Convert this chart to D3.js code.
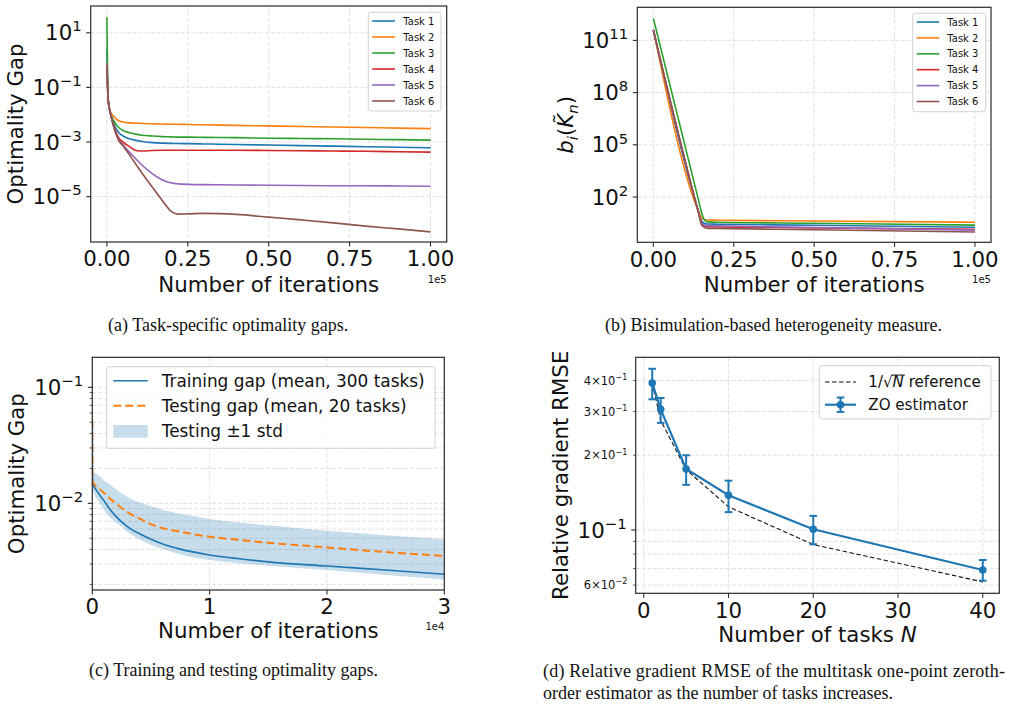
<!DOCTYPE html>
<html><head><meta charset="utf-8">
<script src="https://cdn.jsdelivr.net/npm/d3@7/dist/d3.min.js"></script>
<style>
html,body{margin:0;padding:0;background:#fff;}
svg{display:block;}
</style></head><body>
<script>
// ================= DATA =================
const taskNames = ["Task 1","Task 2","Task 3","Task 4","Task 5","Task 6"];
const taskColors = ["#1f77b4","#ff7f0e","#2ca02c","#d62728","#9467bd","#8c564b"];

// (a) task-specific optimality gaps
const itersA = [0, 400, 1000, 2000, 3500, 5000, 7000, 9000, 11000, 14000, 17000, 20000, 22000, 25000, 30000, 35000, 40000, 50000, 60000, 70000, 80000, 90000, 100000];
const gapTask1 = [2.57, 3.55e-2, 1.26e-2, 5.01e-3, 2.34e-3, 1.66e-3, 1.32e-3, 1.15e-3, 1.05e-3, 9.55e-4, 9.12e-4, 8.91e-4, 8.81e-4, 8.71e-4, 8.51e-4, 8.32e-4, 8.13e-4, 7.76e-4, 7.41e-4, 7.08e-4, 6.76e-4, 6.46e-4, 6.17e-4];
const gapTask2 = [0.741, 3.55e-2, 1.41e-2, 8.91e-3, 6.17e-3, 5.37e-3, 5.01e-3, 4.90e-3, 4.79e-3, 4.68e-3, 4.57e-3, 4.47e-3, 4.47e-3, 4.37e-3, 4.27e-3, 4.17e-3, 4.07e-3, 3.89e-3, 3.72e-3, 3.55e-3, 3.39e-3, 3.24e-3, 3.09e-3];
const gapTask3 = [37.2, 3.55e-2, 1.26e-2, 6.31e-3, 3.55e-3, 2.63e-3, 2.19e-3, 1.95e-3, 1.78e-3, 1.66e-3, 1.58e-3, 1.55e-3, 1.51e-3, 1.51e-3, 1.48e-3, 1.46e-3, 1.45e-3, 1.38e-3, 1.35e-3, 1.32e-3, 1.26e-3, 1.23e-3, 1.17e-3];
const gapTask4 = [0.741, 3.55e-2, 1.26e-2, 4.47e-3, 1.51e-3, 1.0e-3, 6.76e-4, 4.90e-4, 4.68e-4, 4.90e-4, 5.01e-4, 5.01e-4, 5.01e-4, 5.01e-4, 5.01e-4, 5.01e-4, 5.01e-4, 4.90e-4, 4.79e-4, 4.68e-4, 4.57e-4, 4.42e-4, 4.27e-4];
const gapTask5 = [0.741, 3.55e-2, 1.26e-2, 3.98e-3, 1.32e-3, 7.94e-4, 4.17e-4, 2.40e-4, 1.38e-4, 6.92e-5, 4.17e-5, 3.16e-5, 2.95e-5, 2.82e-5, 2.75e-5, 2.72e-5, 2.69e-5, 2.63e-5, 2.57e-5, 2.51e-5, 2.51e-5, 2.45e-5, 2.40e-5];
const gapTask6 = [0.741, 3.55e-2, 1.26e-2, 3.98e-3, 1.23e-3, 7.08e-4, 3.39e-4, 1.51e-4, 6.92e-5, 2.24e-5, 7.59e-6, 2.82e-6, 2.29e-6, 2.34e-6, 2.45e-6, 2.40e-6, 2.24e-6, 1.78e-6, 1.41e-6, 1.10e-6, 8.32e-7, 6.61e-7, 5.13e-7];

// (b) bisimulation-based heterogeneity measure
const itersB = [0, 14000, 15000, 16000, 17000, 20000, 50000, 100000];
const hetTask1 = [4.17e11, 15.8, 4.17, 3.02, 2.82, 2.75, 2.40, 1.82];
const hetTask2 = [3.98e11, 15.8, 6.31, 5.01, 4.79, 4.68, 4.17, 3.55];
const hetTask3 = [1.82e12, 70.8, 12.6, 4.57, 3.72, 3.55, 3.09, 2.45];
const hetTask4 = [3.80e11, 14.1, 3.16, 2.14, 1.95, 1.91, 1.70, 1.38];
const hetTask5 = [3.98e11, 14.1, 3.16, 2.40, 2.24, 2.19, 1.78, 1.26];
const hetTask6 = [3.63e11, 12.6, 2.51, 1.74, 1.58, 1.55, 1.32, 0.977];

// (c) training / testing gaps
const itersC = [0, 20, 300, 650, 1000, 1500, 2000, 2500, 3000, 3500, 4000, 5000, 6000, 7500, 10000, 12500, 15000, 20000, 25000, 30000];
const trainGap  = [5.25e-2, 1.48e-2, 1.32e-2, 1.17e-2, 1.05e-2, 8.91e-3, 7.76e-3, 6.93e-3, 6.31e-3, 5.82e-3, 5.50e-3, 4.90e-3, 4.47e-3, 4.03e-3, 3.59e-3, 3.33e-3, 3.13e-3, 2.88e-3, 2.66e-3, 2.45e-3];
const testGap   = [5.25e-2, 1.55e-2, 1.41e-2, 1.32e-2, 1.23e-2, 1.10e-2, 1.00e-2, 9.12e-3, 8.41e-3, 7.85e-3, 7.41e-3, 6.61e-3, 6.10e-3, 5.69e-3, 5.15e-3, 4.84e-3, 4.57e-3, 4.17e-3, 3.80e-3, 3.52e-3];
const testUpper = [1.94e-2, 1.91e-2, 1.82e-2, 1.70e-2, 1.58e-2, 1.45e-2, 1.32e-2, 1.22e-2, 1.14e-2, 1.07e-2, 1.02e-2, 9.44e-3, 8.81e-3, 8.13e-3, 7.33e-3, 6.84e-3, 6.46e-3, 5.79e-3, 5.31e-3, 4.90e-3];
const testLower = [1.30e-2, 1.29e-2, 1.12e-2, 1.00e-2, 8.75e-3, 7.59e-3, 6.84e-3, 6.31e-3, 5.69e-3, 5.25e-3, 4.90e-3, 4.37e-3, 4.03e-3, 3.63e-3, 3.24e-3, 3.05e-3, 2.90e-3, 2.66e-3, 2.41e-3, 2.21e-3];

// (d) relative gradient RMSE
const tasksN = [1, 2, 5, 10, 20, 40];
const zoRmse = [0.391, 0.306, 0.176, 0.138, 0.1007, 0.069];
const zoLow  = [0.336, 0.270, 0.152, 0.118, 0.0876, 0.0625];
const zoHigh = [0.446, 0.340, 0.200, 0.158, 0.114, 0.0757];
const refRmse = [0.391, 0.276, 0.175, 0.124, 0.0874, 0.0618];

// ticks
const xTicksA = [0, 25000, 50000, 75000, 100000];
const xTickLabelsA = ["0.00", "0.25", "0.50", "0.75", "1.00"];
const yTicksA = [[1e1, 1], [1e-1, -1], [1e-3, -3], [1e-5, -5]];
const yTicksB = [[1e11, 11], [1e8, 8], [1e5, 5], [1e2, 2]];
const xTicksC = [0, 10000, 20000, 30000];
const xTickLabelsC = ["0", "1", "2", "3"];
const yTicksC = [[1e-1, -1], [1e-2, -2]];
const yMinorC = [2e-3,3e-3,4e-3,5e-3,6e-3,7e-3,8e-3,9e-3,2e-2,3e-2,4e-2,5e-2,6e-2,7e-2,8e-2,9e-2];
const xTicksD = [0, 10, 20, 30, 40];
const yTicksD = [[1e-1, -1]];
const yMinorD = [0.06, 0.07, 0.08, 0.09, 0.2, 0.3, 0.4];
const yMinorLabelsD = [[0.4, "4", -1], [0.3, "3", -1], [0.2, "2", -1], [0.06, "6", -2]];

const captions = {
  a: "(a) Task-specific optimality gaps.",
  b: "(b) Bisimulation-based heterogeneity measure.",
  c: "(c) Training and testing optimality gaps.",
  d1: "(d) Relative gradient RMSE of the multitask one-point zeroth-",
  d2: "order estimator as the number of tasks increases."
};

// ================= DRAWING =================
const FS = 21.3;
const GRID = "#dedede";
const SPINE = "#2b2b2b";
const svg = d3.select("body").append("svg").attr("width", 1013).attr("height", 708)
  .style("font-family", "'DejaVu Sans', sans-serif");
const defs = svg.append("defs");
let clipN = 0;

function makePanel(r, xDomain, yDomain) {
  const g = svg.append("g");
  const x = d3.scaleLinear().domain(xDomain).range([r.l, r.r]);
  const y = d3.scaleLog().domain(yDomain).range([r.b, r.t]);
  const id = "clip" + (++clipN);
  defs.append("clipPath").attr("id", id).append("rect")
    .attr("x", r.l).attr("y", r.t).attr("width", r.r - r.l).attr("height", r.b - r.t);
  return { g, x, y, r, clip: `url(#${id})` };
}
function gridX(P, vals) {
  P.g.append("g").selectAll("line").data(vals).join("line")
    .attr("x1", d => P.x(d)).attr("x2", d => P.x(d)).attr("y1", P.r.t).attr("y2", P.r.b)
    .attr("stroke", GRID).attr("stroke-width", 0.9).attr("stroke-dasharray", "4,2");
}
function gridY(P, vals) {
  P.g.append("g").selectAll("line").data(vals).join("line")
    .attr("y1", d => P.y(d)).attr("y2", d => P.y(d)).attr("x1", P.r.l).attr("x2", P.r.r)
    .attr("stroke", GRID).attr("stroke-width", 0.9).attr("stroke-dasharray", "4,2");
}
function frame(P) {
  P.g.append("rect").attr("x", P.r.l).attr("y", P.r.t).attr("width", P.r.r - P.r.l).attr("height", P.r.b - P.r.t)
    .attr("fill", "none").attr("stroke", SPINE).attr("stroke-width", 1.2);
}
function xTicks(P, vals, labels) {
  const g = P.g.append("g");
  vals.forEach((v, i) => {
    const xx = P.x(v);
    g.append("line").attr("x1", xx).attr("x2", xx).attr("y1", P.r.b).attr("y2", P.r.b + 4.5).attr("stroke", SPINE).attr("stroke-width", 1.1);
    g.append("text").attr("x", xx).attr("y", P.r.b + 24.3).attr("text-anchor", "middle").attr("font-size", FS).attr("fill", "#111").text(labels[i]);
  });
}
function supLabel(t, mant, exp, fs) {
  t.append("tspan").text(mant === null ? "10" : mant + "\u00d710");
  t.append("tspan").attr("dy", -0.42 * fs).attr("font-size", fs * 0.7).text(exp < 0 ? "\u2212" + (-exp) : String(exp));
}
function yTicks(P, ticks, minor) {
  const g = P.g.append("g");
  (minor || []).forEach(v => {
    const yy = P.y(v);
    g.append("line").attr("x1", P.r.l - 2.6).attr("x2", P.r.l).attr("y1", yy).attr("y2", yy).attr("stroke", SPINE).attr("stroke-width", 0.8);
  });
  ticks.forEach(([v, e]) => {
    const yy = P.y(v);
    g.append("line").attr("x1", P.r.l - 4.5).attr("x2", P.r.l).attr("y1", yy).attr("y2", yy).attr("stroke", SPINE).attr("stroke-width", 1.1);
    const t = g.append("text").attr("x", P.r.l - 9).attr("y", yy + 0.36 * FS).attr("text-anchor", "end").attr("font-size", FS).attr("fill", "#111");
    supLabel(t, null, e, FS);
  });
}
function xLabel(P, txt, y) {
  return P.g.append("text").attr("x", (P.r.l + P.r.r) / 2).attr("y", y).attr("text-anchor", "middle").attr("font-size", FS).attr("fill", "#111").text(txt);
}
function yLabel(P, txt, x) {
  const cy = (P.r.t + P.r.b) / 2;
  return P.g.append("text").attr("transform", `translate(${x},${cy}) rotate(-90)`).attr("text-anchor", "middle").attr("font-size", FS).attr("fill", "#111").text(txt);
}
function offsetText(P, txt, y) {
  P.g.append("text").attr("x", P.r.r).attr("y", y).attr("text-anchor", "end").attr("font-size", 10).attr("fill", "#111").text(txt);
}
function legendBox(g, x0, y0, x1, y1) {
  g.append("rect").attr("x", x0).attr("y", y0).attr("width", x1 - x0).attr("height", y1 - y0).attr("rx", 2.5)
    .attr("fill", "white").attr("fill-opacity", 0.85).attr("stroke", "#cccccc").attr("stroke-width", 0.9);
}

// ---------- panel (a) ----------
{
  const P = makePanel({ l: 90.7, r: 446.7, t: 6, b: 242 }, [-5000, 105000], [2.19e-7, 95.5]);
  gridX(P, xTicksA); gridY(P, yTicksA.map(d => d[0]));
  const series = [gapTask1, gapTask2, gapTask3, gapTask4, gapTask5, gapTask6];
  const line = d3.line().x((d, i) => P.x(itersA[i])).y(d => P.y(d)).curve(d3.curveMonotoneX);
  const lg = P.g.append("g").attr("clip-path", P.clip);
  series.forEach((s, k) => lg.append("path").attr("d", line(s)).attr("fill", "none").attr("stroke", taskColors[k]).attr("stroke-width", 1.6));
  frame(P);
  xTicks(P, xTicksA, xTickLabelsA);
  yTicks(P, yTicksA);
  xLabel(P, "Number of iterations", 291.5);
  yLabel(P, "Optimality Gap", 22.5);
  offsetText(P, "1e5", 282.7);
  const L = P.g.append("g");
  legendBox(L, 368.3, 12.3, 441, 111);
  taskNames.forEach((n, k) => {
    const yy = 21 + 16 * k;
    L.append("line").attr("x1", 372.3).attr("x2", 395).attr("y1", yy).attr("y2", yy).attr("stroke", taskColors[k]).attr("stroke-width", 1.6);
    L.append("text").attr("x", 403.3).attr("y", yy + 3.6).attr("font-size", 10).attr("fill", "#111").text(n);
  });
}

// ---------- panel (b) ----------
{
  const P = makePanel({ l: 637.3, r: 991, t: 7.3, b: 242.3 }, [-5000, 105000], [0.251, 7.94e12]);
  gridX(P, xTicksA); gridY(P, yTicksB.map(d => d[0]));
  const series = [hetTask1, hetTask2, hetTask3, hetTask4, hetTask5, hetTask6];
  const line = d3.line().x((d, i) => P.x(itersB[i])).y(d => P.y(d)).curve(d3.curveMonotoneX);
  const lg = P.g.append("g").attr("clip-path", P.clip);
  series.forEach((s, k) => lg.append("path").attr("d", line(s)).attr("fill", "none").attr("stroke", taskColors[k]).attr("stroke-width", 1.6));
  frame(P);
  xTicks(P, xTicksA, xTickLabelsA);
  yTicks(P, yTicksB);
  xLabel(P, "Number of iterations", 291.5);
  offsetText(P, "1e5", 282.7);
  // y label b_i(K~_n)
  const t = P.g.append("text").attr("transform", `translate(573,${(P.r.t + P.r.b) / 2}) rotate(-90)`)
    .attr("text-anchor", "middle").attr("font-size", FS).attr("fill", "#111");
  t.append("tspan").attr("font-style", "italic").text("b");
  t.append("tspan").attr("font-style", "italic").attr("font-size", FS * 0.7).attr("dy", 4.5).text("i");
  t.append("tspan").attr("dy", -4.5).text("(");
  t.append("tspan").attr("font-style", "italic").text("K\u0303");
  t.append("tspan").attr("font-style", "italic").attr("font-size", FS * 0.7).attr("dy", 4.5).text("n");
  t.append("tspan").attr("dy", -4.5).text(")");
  const L = P.g.append("g");
  legendBox(L, 912.7, 13.3, 985.7, 111.7);
  taskNames.forEach((n, k) => {
    const yy = 22 + 15.9 * k;
    L.append("line").attr("x1", 916.7).attr("x2", 939.3).attr("y1", yy).attr("y2", yy).attr("stroke", taskColors[k]).attr("stroke-width", 1.6);
    L.append("text").attr("x", 947.3).attr("y", yy + 3.6).attr("font-size", 10).attr("fill", "#111").text(n);
  });
}

// ---------- panel (c) ----------
{
  const P = makePanel({ l: 92.3, r: 444.3, t: 357.3, b: 590 }, [0, 30000], [1.79e-3, 0.1815]);
  gridX(P, xTicksC); gridY(P, yMinorC); gridY(P, yTicksC.map(d => d[0]));
  const lg = P.g.append("g").attr("clip-path", P.clip);
  const area = d3.area().x((d, i) => P.x(itersC[i])).y0((d, i) => P.y(testLower[i])).y1(d => P.y(d)).curve(d3.curveMonotoneX);
  lg.append("path").attr("d", area(testUpper)).attr("fill", "#1f77b4").attr("fill-opacity", 0.25);
  const line = d3.line().x((d, i) => P.x(itersC[i])).y(d => P.y(d)).curve(d3.curveMonotoneX);
  lg.append("path").attr("d", line(trainGap)).attr("fill", "none").attr("stroke", "#1f77b4").attr("stroke-width", 1.6);
  lg.append("path").attr("d", line(testGap)).attr("fill", "none").attr("stroke", "#ff7f0e").attr("stroke-width", 2).attr("stroke-dasharray", "8,4");
  frame(P);
  xTicks(P, xTicksC, xTickLabelsC);
  yTicks(P, yTicksC, yMinorC);
  xLabel(P, "Number of iterations", 638.3);
  yLabel(P, "Optimality Gap", 24);
  offsetText(P, "1e4", 629.5);
  const L = P.g.append("g");
  legendBox(L, 106.7, 366.7, 435, 448.3);
  const lf = 16.9;
  L.append("line").attr("x1", 113.3).attr("x2", 147.7).attr("y1", 380.7).attr("y2", 380.7).attr("stroke", "#1f77b4").attr("stroke-width", 1.6);
  L.append("text").attr("x", 161.7).attr("y", 380.7 + 0.36 * lf).attr("font-size", lf).attr("fill", "#111").text("Training gap (mean, 300 tasks)");
  L.append("line").attr("x1", 113.3).attr("x2", 147.7).attr("y1", 405.7).attr("y2", 405.7).attr("stroke", "#ff7f0e").attr("stroke-width", 2).attr("stroke-dasharray", "8,4");
  L.append("text").attr("x", 161.7).attr("y", 405.7 + 0.36 * lf).attr("font-size", lf).attr("fill", "#111").text("Testing gap (mean, 20 tasks)");
  L.append("rect").attr("x", 113.3).attr("y", 425).attr("width", 34.4).attr("height", 12.7).attr("fill", "#1f77b4").attr("fill-opacity", 0.25);
  L.append("text").attr("x", 161.7).attr("y", 431 + 0.36 * lf).attr("font-size", lf).attr("fill", "#111").text("Testing \u00b11 std");
}

// ---------- panel (d) ----------
{
  const P = makePanel({ l: 635.7, r: 999.3, t: 357.3, b: 593.3 }, [-0.95, 41.95], [0.0556, 0.496]);
  gridX(P, xTicksD); gridY(P, yMinorD); gridY(P, yTicksD.map(d => d[0]));
  const lg = P.g.append("g");
  const line = d3.line().x((d, i) => P.x(tasksN[i])).y(d => P.y(d));
  lg.append("path").attr("d", line(refRmse)).attr("fill", "none").attr("stroke", "#111").attr("stroke-width", 1.1).attr("stroke-dasharray", "4.5,2.5");
  lg.append("path").attr("d", line(zoRmse)).attr("fill", "none").attr("stroke", "#1f77b4").attr("stroke-width", 2.2);
  tasksN.forEach((n, i) => {
    const xx = P.x(n);
    lg.append("line").attr("x1", xx).attr("x2", xx).attr("y1", P.y(zoLow[i])).attr("y2", P.y(zoHigh[i])).attr("stroke", "#1f77b4").attr("stroke-width", 2);
    [zoLow[i], zoHigh[i]].forEach(v => lg.append("line").attr("x1", xx - 3.8).attr("x2", xx + 3.8).attr("y1", P.y(v)).attr("y2", P.y(v)).attr("stroke", "#1f77b4").attr("stroke-width", 2));
    lg.append("circle").attr("cx", xx).attr("cy", P.y(zoRmse[i])).attr("r", 3.8).attr("fill", "#1f77b4");
  });
  frame(P);
  const xt = xTicksD.map(String);
  xTicks(P, xTicksD, xt);
  yTicks(P, yTicksD, yMinorD);
  yMinorLabelsD.forEach(([v, m, e]) => {
    const t = P.g.append("text").attr("x", P.r.l - 8.4).attr("y", P.y(v) + 0.36 * 11.5).attr("text-anchor", "end").attr("font-size", 11.5).attr("fill", "#111");
    supLabel(t, m, e, 11.5);
  });
  const xl = xLabel(P, "", 642);
  xl.append("tspan").text("Number of tasks ");
  xl.append("tspan").attr("font-style", "italic").text("N");
  yLabel(P, "Relative gradient RMSE", 568);
  const L = P.g.append("g");
  legendBox(L, 819.3, 365.7, 991, 419);
  const lf = 15.1;
  L.append("line").attr("x1", 825).attr("x2", 856).attr("y1", 382).attr("y2", 382).attr("stroke", "#111").attr("stroke-width", 1.1).attr("stroke-dasharray", "4.5,2.5");
  const t1 = L.append("text").attr("x", 868.3).attr("y", 382 + 0.36 * lf).attr("font-size", lf).attr("fill", "#111");
  t1.append("tspan").text("1/\u221a");
  t1.append("tspan").attr("font-style", "italic").text("N");
  t1.append("tspan").text(" reference");
  try {
    const node = t1.node();
    const s = node.getStartPositionOfChar(3).x, e = node.getEndPositionOfChar(3).x;
    L.append("line").attr("x1", s - 1).attr("x2", e + 1).attr("y1", 382 + 0.36 * lf - lf * 0.82).attr("y2", 382 + 0.36 * lf - lf * 0.82).attr("stroke", "#111").attr("stroke-width", 1);
  } catch (err) {}
  L.append("line").attr("x1", 825).attr("x2", 856).attr("y1", 404.7).attr("y2", 404.7).attr("stroke", "#1f77b4").attr("stroke-width", 2.2);
  L.append("line").attr("x1", 840.5).attr("x2", 840.5).attr("y1", 397.5).attr("y2", 411.9).attr("stroke", "#1f77b4").attr("stroke-width", 2);
  [397.5, 411.9].forEach(v => L.append("line").attr("x1", 836.7).attr("x2", 844.3).attr("y1", v).attr("y2", v).attr("stroke", "#1f77b4").attr("stroke-width", 2));
  L.append("circle").attr("cx", 840.5).attr("cy", 404.7).attr("r", 3.8).attr("fill", "#1f77b4");
  L.append("text").attr("x", 868.3).attr("y", 404.7 + 0.36 * lf).attr("font-size", lf).attr("fill", "#111").text("ZO estimator");
}

// ---------- captions ----------
{
  const cg = svg.append("g").style("font-family", "'Liberation Serif', 'Times New Roman', serif").attr("font-size", 18).attr("fill", "#111");
  cg.append("text").attr("x", 108).attr("y", 331).text(captions.a);
  cg.append("text").attr("x", 605).attr("y", 331).text(captions.b);
  cg.append("text").attr("x", 378).attr("y", 676).attr("text-anchor", "end").text(captions.c);
  cg.append("text").attr("x", 543).attr("y", 677).attr("textLength", 462).attr("lengthAdjust", "spacing").text(captions.d1);
  cg.append("text").attr("x", 543).attr("y", 699).text(captions.d2);
}
</script>
</body></html>
